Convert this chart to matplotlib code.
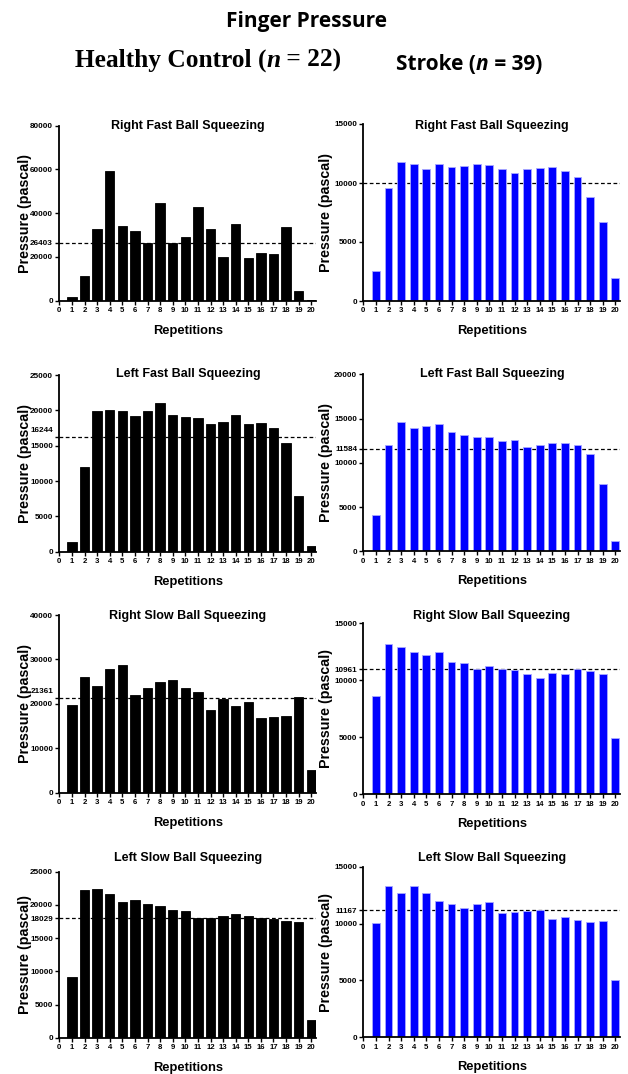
#!/usr/bin/env python3

import numpy as np
import matplotlib
matplotlib.use("Agg")
import matplotlib.pyplot as plt
from matplotlib.transforms import ScaledTranslation

# repetition numbers 1..20
reps = np.arange(1, 21)

panel_titles = ["Right Fast Ball Squeezing", "Left Fast Ball Squeezing",
                "Right Slow Ball Squeezing", "Left Slow Ball Squeezing"]

# healthy control (n = 22), pressure in pascal
healthy_right_fast = [1500, 11400, 32600, 59400, 34100, 32000, 26500, 44800, 26500, 29300,
                      43000, 32600, 20000, 35000, 19700, 21900, 21300, 33500, 4300, 300]
healthy_left_fast = [1420, 12000, 19950, 20000, 19860, 19200, 19860, 21000, 19390, 19100,
                     18870, 18000, 18300, 19340, 18070, 18160, 17450, 15380, 7830, 850]
healthy_right_slow = [19660, 26040, 24090, 27920, 28740, 21910, 23490, 24840, 25370, 23640,
                      22590, 18690, 21160, 19590, 20490, 16740, 16960, 17190, 21460, 5100]
healthy_left_slow = [9200, 22200, 22400, 21650, 20450, 20800, 20200, 19900, 19200, 19100,
                     18000, 18000, 18400, 18650, 18400, 18050, 17950, 17650, 17450, 2750]

# stroke (n = 39)
stroke_right_fast = [2540, 9550, 11750, 11580, 11160, 11580, 11330, 11470, 11610, 11500,
                     11190, 10850, 11190, 11240, 11360, 11050, 10510, 8790, 6720, 1950]
stroke_left_fast = [4070, 12000, 14600, 13900, 14160, 14350, 13520, 13140, 12920, 12920,
                    12470, 12540, 11830, 11980, 12240, 12280, 11980, 11040, 7650, 1170]
stroke_right_slow = [8630, 13190, 12890, 12460, 12190, 12460, 11580, 11490, 10990, 11260,
                     10990, 10880, 10530, 10200, 10610, 10580, 10960, 10820, 10530, 4970]
stroke_left_slow = [10020, 13300, 12720, 13270, 12660, 11950, 11690, 11400, 11720, 11920,
                    10960, 11020, 11100, 11160, 10370, 10550, 10280, 10110, 10200, 5010]

healthy_means = [26403, 16244, 21361, 18029]
stroke_means = [10000, 11584, 10961, 11167]

healthy_yticks = [[0, 20000, 40000, 60000, 80000],
                  [0, 5000, 10000, 15000, 20000, 25000],
                  [0, 10000, 20000, 30000, 40000],
                  [0, 5000, 10000, 15000, 20000, 25000]]
stroke_yticks = [[0, 5000, 10000, 15000],
                 [0, 5000, 10000, 15000, 20000],
                 [0, 5000, 10000, 15000],
                 [0, 5000, 10000, 15000]]

healthy_data = [healthy_right_fast, healthy_left_fast, healthy_right_slow, healthy_left_slow]
stroke_data = [stroke_right_fast, stroke_left_fast, stroke_right_slow, stroke_left_slow]

W, H = 628, 1074
SANS = "Liberation Sans"

# axes boxes in pixels: (left x, top y, bottom y)
left_boxes = [(59.3, 125.7, 300.7), (59.3, 375, 551.7), (59.3, 615, 792.7), (59.3, 871.7, 1038)]
right_boxes = [(363.3, 124, 301), (363.3, 374.3, 551.3), (363.3, 623.3, 794.3), (363.3, 866.7, 1037.3)]
title_y = [125.5, 374, 616, 858.5]
mean_label_shift = [0, 5, 5, 0]   # px, healthy column only


def make_panel(fig, box, values, mean, yticks, title, ty, color, width, shift=0):
    x0, top, bottom = box
    unit = 12.6
    ax = fig.add_axes([x0 / W, 1 - bottom / H, 20.4 * unit / W, (bottom - top) / H])
    edge = "black" if color == "black" else "#a8a8ff"
    ax.bar(reps, values, width=width, color=color, edgecolor=edge, linewidth=0.6, zorder=2)
    ax.axhline(mean, color="black", ls=(0, (3, 2)), lw=0.9, zorder=1)

    ax.set_xlim(0, 20.4)
    ax.set_ylim(0, yticks[-1])
    ax.set_xticks(range(0, 21))
    ticks = sorted(set(yticks) | {mean})
    ax.set_yticks(ticks)
    ax.set_yticklabels([str(t) for t in ticks])

    for side in ("top", "right"):
        ax.spines[side].set_visible(False)
    for side in ("left", "bottom"):
        ax.spines[side].set_linewidth(1.3)
    ax.tick_params(direction="out", length=3, width=1.0, pad=1.5)
    for lab in ax.get_xticklabels():
        lab.set_fontfamily(SANS)
        lab.set_fontweight("bold")
        lab.set_fontsize(5.6)
    for lab in ax.get_yticklabels():
        lab.set_fontfamily(SANS)
        lab.set_fontweight("bold")
        lab.set_fontsize(5.9)
    if shift:
        for lab in ax.get_yticklabels():
            if lab.get_text() == str(mean):
                lab.set_transform(lab.get_transform() +
                                  ScaledTranslation(0, shift / 72, fig.dpi_scale_trans))

    cx = (x0 + 10.2 * unit) / W
    fig.text(cx, 1 - ty / H, title, ha="center", va="center",
             family=SANS, weight="bold", fontsize=9)
    fig.text(cx, 1 - (bottom + 30) / H, "Repetitions", ha="center", va="center",
             family=SANS, weight="bold", fontsize=9.3)
    ylab_x = 25 if x0 < 300 else 326
    fig.text(ylab_x / W, 1 - (top + bottom) / 2 / H, "Pressure (pascal)", rotation=90,
             ha="center", va="center", family=SANS, weight="bold", fontsize=10.3)
    return ax


def rich_header(fig, xc, ybase, parts, family, size):
    """Centered line made of pieces with their own font style."""
    renderer = fig.canvas.get_renderer()
    texts = [fig.text(0, 1 - ybase / H, s, family=family, weight="bold", style=st,
                      fontsize=size, ha="left", va="baseline") for s, st in parts]
    widths = [t.get_window_extent(renderer).width for t in texts]
    x = xc - sum(widths) / 2
    for t, w in zip(texts, widths):
        t.set_x(x / W)
        x += w


def main():
    fig = plt.figure(figsize=(W / 100, H / 100), dpi=100)

    for i in range(4):
        make_panel(fig, left_boxes[i], healthy_data[i], healthy_means[i], healthy_yticks[i],
                   panel_titles[i], title_y[i], "black", 0.75, mean_label_shift[i])
        make_panel(fig, right_boxes[i], stroke_data[i], stroke_means[i], stroke_yticks[i],
                   panel_titles[i], title_y[i], "#0000ff", 0.62)

    fig.text(306 / W, 1 - 26.7 / H, "Finger Pressure", ha="center", va="baseline",
             family="Open Sans", weight="bold", fontsize=15)
    rich_header(fig, 208, 67, [("Healthy Control (", "normal"), ("n", "italic"),
                               (" = 22)", "normal")], "Liberation Serif", 18.3)
    rich_header(fig, 469, 70, [("Stroke (", "normal"), ("n", "italic"),
                               (" = 39)", "normal")], "Open Sans", 15)

    fig.savefig("out.png", dpi=100)


if __name__ == "__main__":
    main()
